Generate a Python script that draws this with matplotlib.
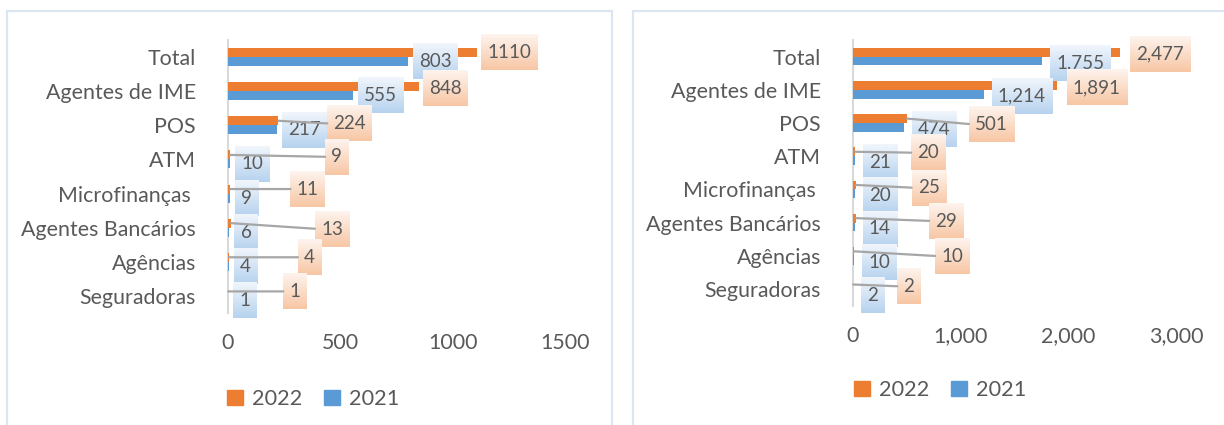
import matplotlib
matplotlib.use("Agg")
import matplotlib.pyplot as plt
import numpy as np
from matplotlib.patches import Rectangle, Patch
from matplotlib.colors import to_rgb

# ---------------- data ----------------
categories = ["Total", "Agentes de IME", "POS", "ATM", "Microfinanças ",
              "Agentes Bancários", "Agências", "Seguradoras"]
series_names = ["2022", "2021"]
left_2022 = [1110, 848, 224, 9, 11, 13, 4, 1]
left_2021 = [803, 555, 217, 10, 9, 6, 4, 1]
right_2022 = [2477, 1891, 501, 20, 25, 29, 10, 2]
right_2021 = [1755, 1214, 474, 21, 20, 14, 10, 2]
left_ticks = [0, 500, 1000, 1500]
right_ticks = [0, 1000, 2000, 3000]

# ---------------- label layout (pixel offsets) ----------------
left_dx22 = [4, 4, 49, 95, 60, 84, 69, 55]
left_dy22 = [0, 2, 3, 2, 0, 6, 0, 0]
right_dx22 = [10, 10, 62, 56, 56, 73, 81, 44]
right_dy22 = [2, 2, 6, 1, 3, 3, 5, 2]
left_dx21 = 5
right_dx21 = 8
left_dy21 = 0
right_dy21 = 2

C22 = "#ED7D31"
C21 = "#5B9BD5"
GRAD22 = ("#FEF4EE", "#F7C6A4")
GRAD21 = ("#F1F6FC", "#B6D2EE")
TXT = "#595959"
LEADER = "#A6A6A6"
BORDER = "#DCE6F2"

plt.rcParams["font.family"] = ["Lato", "DejaVu Sans"]

W, H = 1224, 425
fig = plt.figure(figsize=(W / 100, H / 100), dpi=100)

# panel borders
for x0, x1 in [(7, 612), (633, 1240)]:
    fig.add_artist(Rectangle((x0 / W, -0.1), (x1 - x0) / W, (H - 11) / H + 0.1,
                             transform=fig.transFigure, fill=False,
                             ec=BORDER, lw=1.6, clip_on=False))

boxes = []  # (ax, annotation, gradient colors, zorder)


def panel(rect, v22, v21, ticks, fmt, dx22, dy22, dx21, dy21, leg_xy):
    ax = fig.add_axes([rect[0] / W, (H - rect[3]) / H,
                       (rect[2] - rect[0]) / W, (rect[3] - rect[1]) / H])
    n = len(categories)
    ys = list(range(n))
    h = 0.265
    ax.barh([y - h / 2 for y in ys], v22, height=h, color=C22, zorder=2)
    ax.barh([y + h / 2 for y in ys], v21, height=h, color=C21, zorder=2)
    ax.set_ylim(n - 0.5, -0.5)
    ax.set_xlim(ticks[0], ticks[-1])
    ax.set_yticks(ys)
    ax.set_yticklabels(categories)
    ax.set_xticks(ticks)
    ax.set_xticklabels([fmt(t) for t in ticks])
    ax.tick_params(axis="both", length=0, colors=TXT, labelsize=15.4)
    ax.tick_params(axis="y", pad=23)
    ax.tick_params(axis="x", pad=14.5)
    for s in ["top", "right", "bottom"]:
        ax.spines[s].set_visible(False)
    ax.spines["left"].set_color("#D9D9D9")
    ax.spines["left"].set_linewidth(1.5)
    ax.spines["left"].set_zorder(1)

    fs = 13.5
    padf = 0.33
    pad_px = padf * fs * 100 / 72

    for i in range(n):
        a = ax.annotate(fmt(v21[i]), xy=(v21[i], i + h / 2),
                        xytext=(dx21 + pad_px, -dy21), textcoords="offset pixels",
                        ha="left", va="center", fontsize=fs, color=TXT, zorder=3.2,
                        bbox=dict(boxstyle="square,pad=%g" % padf, fc="none", ec="none"))
        boxes.append((ax, a, GRAD21, 3.0))
    for i in range(n):
        ap = None
        if dx22[i] > 20:
            ap = dict(arrowstyle="-", color=LEADER, lw=1.6, shrinkA=0, shrinkB=0,
                      relpos=(0, 0.5))
        a = ax.annotate(fmt(v22[i]), xy=(v22[i], i - h / 2),
                        xytext=(dx22[i] + pad_px, -dy22[i]), textcoords="offset pixels",
                        ha="left", va="center", fontsize=fs, color=TXT, zorder=5.2,
                        arrowprops=ap,
                        bbox=dict(boxstyle="square,pad=%g" % padf, fc="none", ec="none"))
        boxes.append((ax, a, GRAD22, 5.0))

    handles = [Patch(color=C22), Patch(color=C21)]
    fig.legend(handles, series_names, loc="center",
               bbox_to_anchor=(leg_xy[0] / W, 1 - leg_xy[1] / H),
               ncol=2, frameon=False, fontsize=15.6, labelcolor=TXT,
               handlelength=0.75, handleheight=0.75, handletextpad=0.4,
               columnspacing=1.0)
    return ax


axL = panel((228, 40, 565, 313), left_2022, left_2021, left_ticks,
            lambda v: "%d" % v, left_dx22, left_dy22, left_dx21, left_dy21, (313, 399))
axR = panel((853, 40, 1176, 305.5), right_2022, right_2021, right_ticks,
            lambda v: "{:,}".format(v), right_dx22, right_dy22, right_dx21, right_dy21,
            (940, 390))

# gradient fills behind the data labels (slightly taller than the text box)
fig.canvas.draw()
renderer = fig.canvas.get_renderer()
extra = 3.0
for ax, a, (ctop, cbot), z in boxes:
    bb = a.get_bbox_patch().get_window_extent(renderer)
    inv = ax.transData.inverted()
    (x0, y_bot), (x1, y_top) = inv.transform([(bb.x0, bb.y0 - extra),
                                              (bb.x1, bb.y1 + extra)])
    t = np.linspace(0, 1, 64)[:, None]
    top = np.array(to_rgb(ctop))
    bot = np.array(to_rgb(cbot))
    grad = top[None, None, :] * (1 - t[:, :, None]) + bot[None, None, :] * t[:, :, None]
    grad = np.repeat(grad, 2, axis=1)
    xl, yl = ax.get_xlim(), ax.get_ylim()
    ax.imshow(grad, extent=[x0, x1, y_bot, y_top], origin="upper", aspect="auto",
              zorder=z, clip_on=False, interpolation="bilinear")
    ax.set_xlim(xl)
    ax.set_ylim(yl)

fig.savefig("out.png", dpi=100)
